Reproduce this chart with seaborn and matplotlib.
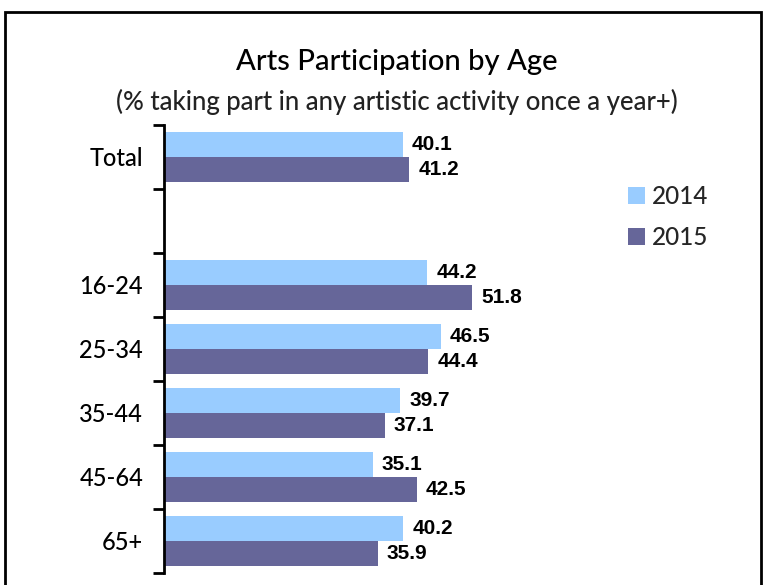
import matplotlib
matplotlib.use("Agg")
import matplotlib.pyplot as plt
import matplotlib.patches as mpatches
import numpy as np
import pandas as pd
import seaborn as sns

# Age bands (blank row separates the total from the breakdown)
categories = ["Total", " ", "16-24", "25-34", "35-44", "45-64", "65+"]
values_2014 = [40.1, np.nan, 44.2, 46.5, 39.7, 35.1, 40.2]
values_2015 = [41.2, np.nan, 51.8, 44.4, 37.1, 42.5, 35.9]
years = ["2014", "2015"]
colors = {"2014": "#99CCFF", "2015": "#666699"}

df = pd.DataFrame({
    "group": categories * 2,
    "year": [years[0]] * len(categories) + [years[1]] * len(categories),
    "value": values_2014 + values_2015,
})

sns.set_theme(style="white")
plt.rcParams["font.family"] = ["Lato", "DejaVu Sans"]
plt.rcParams["font.weight"] = "medium"

W, H = 763, 585
fig = plt.figure(figsize=(W / 100, H / 100), dpi=100)
ax = fig.add_axes([164 / W, 1 - 573 / H, (745 - 164) / W, (573 - 125) / H])

sns.barplot(data=df.dropna(), x="value", y="group", hue="year", order=categories,
            hue_order=years, palette=colors, orient="h", width=0.77, gap=0,
            saturation=1, linewidth=0, edgecolor="none", ax=ax, legend=True)

for cont in ax.containers:
    ax.bar_label(cont, fmt="%.1f", padding=6.5, fontsize=15, fontweight="bold",
                 family="Liberation Sans", color="black")

ax.set_xlim(0, 97.6)
ax.set_ylim(len(categories) - 0.5, -0.5)
ax.set_xlabel("")
ax.set_ylabel("")
ax.set_xticks([])

# Category labels centred, tick marks on the category boundaries
ax.set_yticks(range(len(categories)))
ax.set_yticklabels(categories, fontsize=17, color="black", fontweight="medium")
ax.tick_params(axis="y", which="major", length=0, pad=15)
ax.set_yticks(np.arange(-0.5, len(categories), 1), minor=True)
ax.tick_params(axis="y", which="minor", left=True, length=8, width=2, color="black")

for s in ["top", "right", "bottom"]:
    ax.spines[s].set_visible(False)
ax.spines["left"].set_linewidth(2)
ax.spines["left"].set_color("black")

leg = ax.get_legend()
handles = leg.legend_handles
leg.remove()
fig.legend(handles, years, loc="center left", bbox_to_anchor=(628 / W, 1 - 217 / H),
           frameon=False, prop={"size": 17.5, "weight": "medium"},
           handlelength=0.7, handleheight=0.7,
           handletextpad=0.3, labelspacing=0.72, borderpad=0, borderaxespad=0)

fig.text(397 / W, 1 - 62 / H, "Arts Participation by Age", ha="center", va="center",
         fontsize=21, fontweight="medium", color="black")
fig.text(397 / W, 1 - 102 / H, "(% taking part in any artistic activity once a year+)",
         ha="center", va="center", fontsize=18.5, color="#222222")

# Frame around the figure
fig.patches.append(mpatches.Rectangle((5 / W, -0.1), (761 - 5) / W, 1 - 12 / H + 0.1,
                                      transform=fig.transFigure, fill=False,
                                      edgecolor="black", linewidth=2, clip_on=False))

fig.savefig("out.png", dpi=100)
